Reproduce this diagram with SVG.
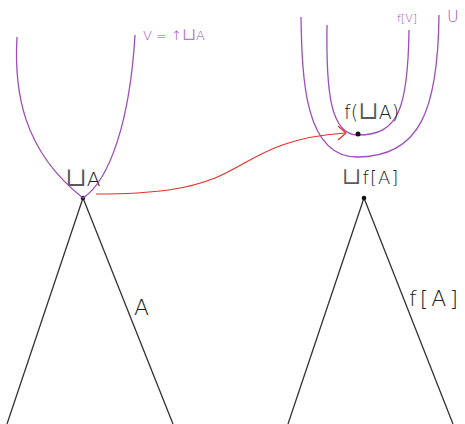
<svg xmlns="http://www.w3.org/2000/svg" width="465" height="424" viewBox="0 0 465 424">
<style>
.blk{fill:none;stroke:#333;stroke-width:1.3}
.pur{fill:none;stroke:#9c4fb8;stroke-width:1.3}
.red{fill:none;stroke:#e53228;stroke-width:1.2}
.tb{font-family:"DejaVu Sans","Liberation Sans",sans-serif;fill:#222;font-weight:300}
.tp{font-family:"DejaVu Sans","Liberation Sans",sans-serif;fill:#9c4fb8;font-weight:300}
.cup{font-family:"DejaVu Serif","DejaVu Sans",serif;font-weight:normal;font-size:1.3em;fill-opacity:0.75}
</style>
<rect width="465" height="424" fill="#fff"/>
<g id="left-tree">
<path class="blk" d="M83,198 L7,424 M83,198 L173,424"/>
<circle cx="83" cy="198" r="2.3" fill="#111"/>
<text class="tb" x="65" y="186" font-size="20"><tspan class="cup">⊔</tspan>A</text>
<text class="tb" x="134" y="315" font-size="22">A</text>
</g>
<g id="left-upset">
<path class="pur" d="M17,37 C14,90 22,150 83,198 C110,180 130,120 135,35"/>
<text class="tp" x="143" y="40" font-size="13">V = ↑<tspan class="cup">⊔</tspan>A</text>
</g>
<g id="right-tree">
<path class="blk" d="M364,198 L288,424 M364,198 L453,424"/>
<circle cx="364" cy="198" r="2.3" fill="#111"/>
<text class="tb" x="342" y="184" font-size="18" letter-spacing="1"><tspan class="cup">⊔</tspan>f[A]</text>
<text class="tb" x="409" y="306" font-size="22" letter-spacing="3">f[A]</text>
</g>
<g id="right-upsets">
<path class="pur" d="M301,17 C302,80 305,157 357,157 C420,157 438,110 439,15"/>
<path class="pur" d="M327,25 C326,90 330,135 358,135 C398,135 408,110 409,30"/>
<circle cx="358" cy="134" r="2.5" fill="#111"/>
<text class="tp" x="397" y="22" font-size="11">f[V]</text>
<text class="tp" x="447" y="22" font-size="16">U</text>
<text class="tb" x="344" y="119" font-size="19">f(<tspan class="cup">⊔</tspan>A)</text>
</g>
<g id="connectors">
<path class="red" d="M96,194 C160,194 190,188 215,178 C250,164 270,138 345,133"/>
<path class="red" d="M338,126 L346,133 L338,140"/>
</g>
</svg>
